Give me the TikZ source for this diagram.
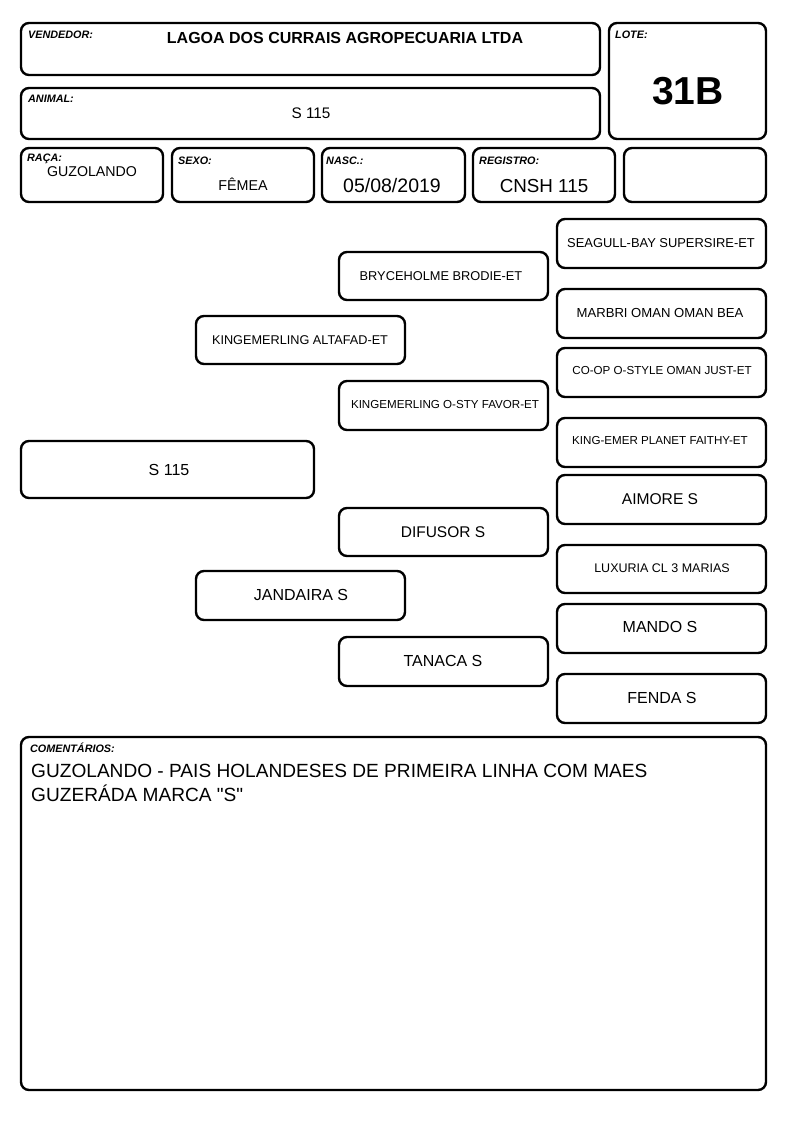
\documentclass[tikz,border=0pt]{standalone}
\usepackage{fontspec}
\setmainfont{Liberation Sans}[Ligatures=TeXOff]
\begin{document}
\begin{tikzpicture}[x=1pt,y=-1pt,
  box/.style={draw=black,line width=2.4pt,rounded corners=8pt,fill=white},
  lbl/.style={font=\fontsize{10.8}{12}\selectfont\bfseries\itshape,anchor=west,inner sep=0pt},
  txt/.style={inner sep=0pt,anchor=center}]
\useasboundingbox (0,0) rectangle (794,1123);
\fill[white] (0,0) rectangle (794,1123);
% header boxes
\draw[box] (21,23) rectangle (600,75);
\draw[box] (21,88) rectangle (600,139);
\draw[box] (609,23) rectangle (766,139);
\draw[box] (21,148) rectangle (163,202);
\draw[box] (172,148) rectangle (314,202);
\draw[box] (322,148) rectangle (465,202);
\draw[box] (473,148) rectangle (615,202);
\draw[box] (624,148) rectangle (766,202);
\node[lbl] (lv) at (28,35) {VENDEDOR:};
\node[txt,font=\fontsize{16}{19}\selectfont\bfseries] (vv) at (345,38) {LAGOA DOS CURRAIS AGROPECUARIA LTDA};
\node[lbl] (la) at (28,99) {ANIMAL:};
\node[txt,font=\fontsize{15.3}{18}\selectfont] (va) at (311,113) {S 115};
\node[lbl] (ll) at (615,35) {LOTE:};
\node[txt,font=\fontsize{39}{44}\selectfont\bfseries] (vl) at (688,91) {31B};
\node[lbl] (lr) at (27,159) {RAÇA:};
\node[txt,font=\fontsize{14.2}{17}\selectfont] (vr) at (92,172) {GUZOLANDO};
\node[lbl] (ls) at (178,161) {SEXO:};
\node[txt,font=\fontsize{14.3}{17}\selectfont] (vs) at (243,184) {FÊMEA};
\node[lbl] (ln) at (326,161) {NASC.:};
\node[txt,font=\fontsize{19.5}{22}\selectfont] (vn) at (392,186) {05/08/2019};
\node[lbl] (lg) at (479,161) {REGISTRO:};
\node[txt,font=\fontsize{18.8}{22}\selectfont] (vg) at (544,186) {CNSH 115};
% pedigree
\draw[box] (21,441) rectangle (314,498);
\node[txt,font=\fontsize{16}{19}\selectfont] (p1) at (169,470) {S 115};
\draw[box] (196,316) rectangle (405,364);
\node[txt,font=\fontsize{12.7}{15}\selectfont] (p2) at (300,340) {KINGEMERLING ALTAFAD-ET};
\draw[box] (196,571) rectangle (405,620);
\node[txt,font=\fontsize{16}{19}\selectfont] (p3) at (301,595) {JANDAIRA S};
\draw[box] (339,252) rectangle (548,300);
\node[txt,font=\fontsize{12.8}{15}\selectfont] (p4) at (441,276) {BRYCEHOLME BRODIE-ET};
\draw[box] (339,381) rectangle (548,430);
\node[txt,font=\fontsize{11.6}{14}\selectfont] (p5) at (445,405) {KINGEMERLING O-STY FAVOR-ET};
\draw[box] (339,508) rectangle (548,556);
\node[txt,font=\fontsize{15.5}{18}\selectfont] (p6) at (443,532) {DIFUSOR S};
\draw[box] (339,637) rectangle (548,686);
\node[txt,font=\fontsize{16}{19}\selectfont] (p7) at (443,661) {TANACA S};
\draw[box] (557,219) rectangle (766,268);
\node[txt,font=\fontsize{12.9}{16}\selectfont] (p8) at (661,243) {SEAGULL-BAY SUPERSIRE-ET};
\draw[box] (557,289) rectangle (766,338);
\node[txt,font=\fontsize{13.1}{16}\selectfont] (p9) at (660,313) {MARBRI OMAN OMAN BEA};
\draw[box] (557,348) rectangle (766,397);
\node[txt,font=\fontsize{11.6}{14}\selectfont] (p10) at (662,371) {CO-OP O-STYLE OMAN JUST-ET};
\draw[box] (557,418) rectangle (766,467);
\node[txt,font=\fontsize{11.6}{14}\selectfont] (p11) at (660,441) {KING-EMER PLANET FAITHY-ET};
\draw[box] (557,475) rectangle (766,524);
\node[txt,font=\fontsize{15.6}{18}\selectfont] (p12) at (660,499) {AIMORE S};
\draw[box] (557,545) rectangle (766,593);
\node[txt,font=\fontsize{12.5}{15}\selectfont] (p13) at (662,568) {LUXURIA CL 3 MARIAS};
\draw[box] (557,604) rectangle (766,653);
\node[txt,font=\fontsize{16}{19}\selectfont] (p14) at (660,627) {MANDO S};
\draw[box] (557,674) rectangle (766,723);
\node[txt,font=\fontsize{16}{19}\selectfont] (p15) at (662,698) {FENDA S};
% comments
\draw[box] (21,737) rectangle (766,1090);
\node[lbl] (lc) at (30,748) {COMENTÁRIOS:};
\node[inner sep=0pt,anchor=north west,align=left,font=\fontsize{19.1}{24}\selectfont] (vc) at (31,764) {GUZOLANDO - PAIS HOLANDESES DE PRIMEIRA LINHA COM MAES\\GUZERÁDA MARCA "S"};
\end{tikzpicture}
\end{document}
